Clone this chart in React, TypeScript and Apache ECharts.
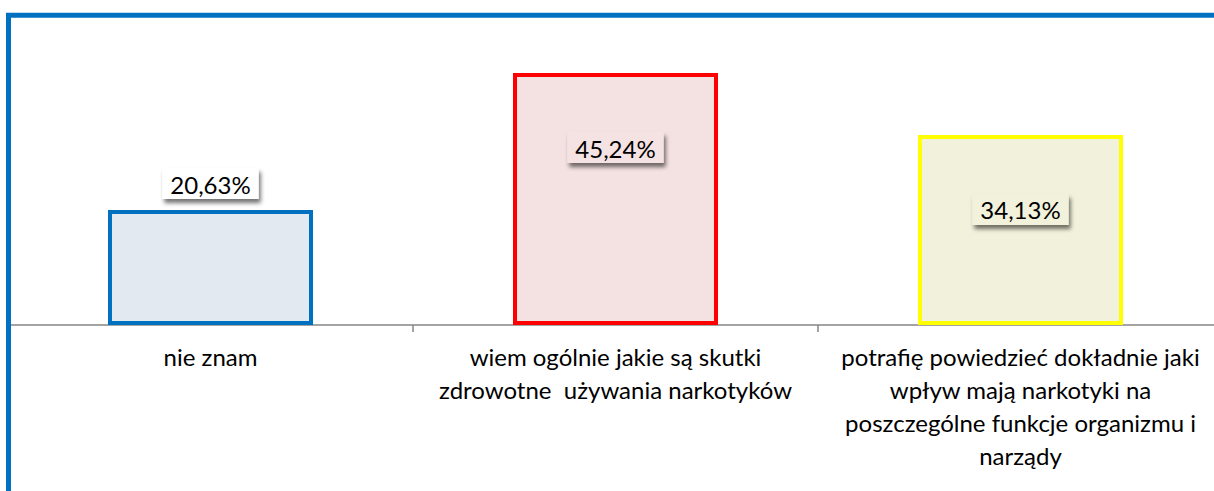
import React, { useEffect, useRef } from "react";
import * as echarts from "echarts";

const categories = [
  "nie znam",
  "wiem ogólnie jakie są skutki\nzdrowotne  używania narkotyków",
  "potrafię powiedzieć dokładnie jaki\nwpływ mają narkotyki na\nposzczególne funkcje organizmu i\nnarządy",
];
const values = [20.63, 45.24, 34.13];

const barStyles = [
  { fill: "#E3E9F1", stroke: "#0070C0", labelBg: "#FFFFFF", pos: "top", dist: 11 },
  { fill: "#F4E1E1", stroke: "#FF0000", labelBg: "#F5E3E3", pos: "insideTop", dist: 59 },
  { fill: "#F2F2DC", stroke: "#FFFF00", labelBg: "#F2F2DC", pos: "insideTop", dist: 59 },
];

const fmt = (v: number) => v.toFixed(2).replace(".", ",") + "%";

export default function App() {
  const ref = useRef<HTMLDivElement>(null);
  useEffect(() => {
    if (!ref.current) return;
    const chart = echarts.init(ref.current, null, { renderer: "svg" });
    const font = "Lato, 'Noto Sans', sans-serif";
    chart.setOption({
      animation: false,
      backgroundColor: "#FFFFFF",
      grid: {
        left: 8,
        width: 1215,
        top: 46.5,
        bottom: 166,
        containLabel: false,
        outerBoundsMode: "none",
      },
      xAxis: {
        type: "category",
        data: categories,
        boundaryGap: true,
        axisLine: { show: true, lineStyle: { color: "#868686", width: 1.5 } },
        axisTick: { show: true, length: 7, lineStyle: { color: "#868686", width: 1.5 } },
        axisLabel: {
          interval: 0,
          color: "#000000",
          fontFamily: font,
          fontSize: 24,
          lineHeight: 33,
          margin: 15,
        },
      },
      yAxis: {
        type: "value",
        min: 0,
        max: 50,
        show: false,
        splitLine: { show: false },
      },
      series: [
        {
          type: "bar",
          barWidth: 205,
          data: values.map((v, i) => ({
            value: v,
            itemStyle: {
              color: barStyles[i].fill,
              borderColor: barStyles[i].stroke,
              borderWidth: 4,
            },
            label: {
              show: true,
              position: barStyles[i].pos,
              distance: barStyles[i].dist,
              formatter: () => fmt(v),
              color: "#000000",
              fontFamily: font,
              fontSize: 24,
              backgroundColor: barStyles[i].labelBg,
              padding: [4, 8, 3, 8],
              shadowColor: "rgba(0,0,0,0.55)",
              shadowBlur: 4,
              shadowOffsetX: 2,
              shadowOffsetY: 4,
            },
          })),
        },
      ],
      graphic: [
        {
          type: "rect",
          shape: { x: 8.5, y: 15.2, width: 1300, height: 600 },
          style: { fill: "none", stroke: "#0070C0", lineWidth: 5 },
          z: 100,
        },
      ],
    });
    return () => chart.dispose();
  }, []);
  return (
    <div
      ref={ref}
      style={{ position: "absolute", left: 0, top: 0, width: 1214, height: 491 }}
    />
  );
}
